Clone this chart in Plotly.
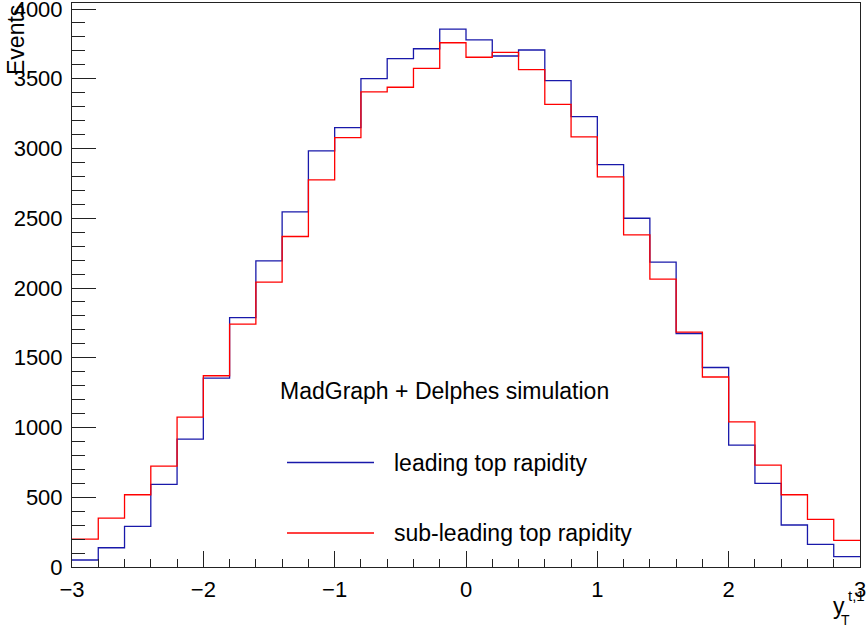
import plotly.graph_objects as go

# ---- data ----
bin_edges = [round(-3.0 + 0.2 * i, 1) for i in range(31)]
leading = [50, 138, 291, 592, 917, 1354, 1788, 2194, 2545, 2983,
           3150, 3501, 3644, 3715, 3856, 3778, 3663, 3706, 3486, 3228,
           2884, 2500, 2185, 1674, 1430, 874, 599, 301, 162, 74]
subleading = [200, 351, 518, 723, 1075, 1371, 1741, 2042, 2369, 2775,
              3078, 3406, 3439, 3575, 3758, 3654, 3689, 3565, 3317, 3083,
              2796, 2381, 2063, 1684, 1362, 1041, 731, 518, 341, 191]
series_names = ["leading top rapidity", "sub-leading top rapidity"]
series_colors = ["rgb(25,25,170)", "rgb(255,0,0)"]
header_text = "MadGraph + Delphes simulation"
y_title = "Events"

W, H = 866, 630
L, R, T, B = 72, 6, 3, 63
PW, PH = W - L - R, H - T - B


def px(x):
    return (x - L) / PW


def py(y):
    return (H - B - y) / PH


FONT = "Liberation Sans, Arial, Helvetica, sans-serif"

fig = go.Figure()
for vals, name, col in zip([leading, subleading], series_names, series_colors):
    fig.add_trace(go.Scatter(
        x=bin_edges, y=list(vals) + [vals[-1]],
        mode="lines", line=dict(shape="hv", color=col, width=1.3),
        name=name, showlegend=False, hoverinfo="skip"))

axis_common = dict(
    showline=True, linecolor="#222", linewidth=1, mirror=True,
    showgrid=False, zeroline=False, ticks="inside", tickcolor="#222",
    tickfont=dict(family=FONT, size=22, color="black"),
    ticklabeloverflow="allow", automargin=False,
)

fig.update_xaxes(range=[-3, 3], dtick=1, tick0=0, ticklen=16,
                 minor=dict(dtick=0.2, tick0=0, ticks="inside", ticklen=8, tickcolor="#222"),
                 ticklabelstandoff=3, **axis_common)
fig.update_yaxes(range=[0, 4043], dtick=500, tick0=0, ticklen=24,
                 minor=dict(dtick=100, tick0=0, ticks="inside", ticklen=13, tickcolor="#222"),
                 ticklabelstandoff=4, **axis_common)


def ann(text, x, y, size, xanchor="center", **kw):
    return dict(text=text, x=px(x), y=py(y), xref="paper", yref="paper",
                showarrow=False, xanchor=xanchor, yanchor="middle",
                font=dict(family=FONT, size=size, color="black"), **kw)


annotations = [
    ann(y_title, 16, 40, 23, textangle=-90),
    ann("y", 847, 606, 23, xanchor="right"),
    ann("t,1", 846, 595, 15, xanchor="left"),
    ann("T", 839, 620, 14, xanchor="left"),
    ann(header_text, 444, 391, 23),
]
shapes = []
for i, (name, col) in enumerate(zip(series_names, series_colors)):
    yy = 462.5 + i * 70.5
    annotations.append(ann(name, 392, yy, 23, xanchor="left"))
    shapes.append(dict(type="line", xref="paper", yref="paper",
                       x0=px(287), x1=px(374), y0=py(yy), y1=py(yy),
                       line=dict(color=col, width=1.3)))

fig.update_layout(
    width=W, height=H, margin=dict(l=L, r=R, t=T, b=B, pad=0),
    paper_bgcolor="white", plot_bgcolor="white",
    annotations=annotations, shapes=shapes, showlegend=False,
    font=dict(family=FONT),
)

fig.write_html("out.html")
